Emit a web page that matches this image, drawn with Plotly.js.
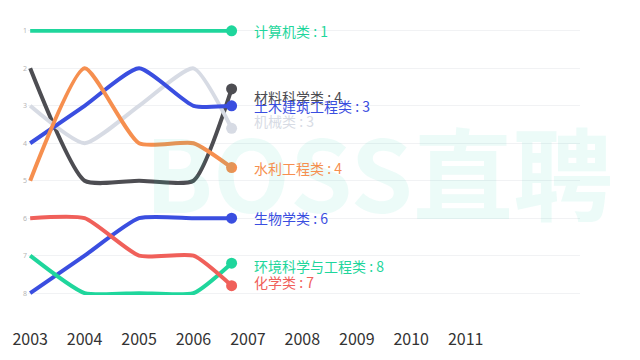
<!DOCTYPE html>
<html><head><meta charset="utf-8">
<script src="https://cdn.plot.ly/plotly-3.0.1.min.js"></script>
<style>html,body{margin:0;padding:0;background:#fff}#chart{width:640px;height:360px}</style>
</head><body><div id="chart"></div>
<script>
const years = [2003, 2004, 2005, 2006, 2006.7];
const yearTicks = [2003, 2004, 2005, 2006, 2007, 2008, 2009, 2010, 2011];
const rankTicks = [1, 2, 3, 4, 5, 6, 7, 8];
const names = ['计算机类', '材料科学类', '机械类', '土木建筑工程类', '水利工程类', '生物学类', '环境科学与工程类', '化学类'];
const ranks = [
  [1, 1, 1, 1, 1],
  [2, 5, 5, 5, 2.55],
  [3, 4, 3, 2, 3.6],
  [4, 3, 2, 3, 3],
  [5, 2, 4, 4, 4.65],
  [8, 7, 6, 6, 6],
  [7, 8, 8, 8, 7.2],
  [6, 6, 7, 7, 7.8]
];
const labelValues = [1, 4, 3, 3, 4, 6, 8, 7];
const colors = ['#1fd69c', '#4d4d52', '#d7dbe4', '#3a4ee0', '#f68f4f', '#3a4ee0', '#1fd69c', '#f0605a'];
const labelDown = [0, 8, -7, 0, 0, 0, 3, -4];

const traces = [];
const annotations = [{
  xref: 'paper', yref: 'paper', x: 0.635, y: 0.47, text: '<b>BOSS直聘</b>',
  showarrow: false, xanchor: 'center', yanchor: 'middle',
  font: {family: 'Noto Sans CJK SC', size: 100, color: 'rgba(40,205,170,0.085)'}
}];
names.forEach((n, i) => {
  traces.push({
    x: years, y: ranks[i], type: 'scatter', mode: 'lines',
    line: {shape: 'spline', smoothing: 0.55, width: 4, color: colors[i]},
    cliponaxis: false, hoverinfo: 'skip'
  });
  traces.push({
    x: [years[years.length - 1]], y: [ranks[i][ranks[i].length - 1]],
    type: 'scatter', mode: 'markers',
    marker: {size: 11, color: colors[i]}, cliponaxis: false, hoverinfo: 'skip'
  });
  annotations.push({
    x: years[years.length - 1], y: ranks[i][ranks[i].length - 1],
    xref: 'x', yref: 'y', text: n + ' : ' + labelValues[i], showarrow: false,
    xanchor: 'left', yanchor: 'middle', xshift: 20, yshift: -labelDown[i],
    font: {family: 'Noto Sans CJK SC', size: 14, color: colors[i]}
  });
});

const layout = {
  width: 640, height: 360,
  margin: {l: 28, r: 60, t: 29, b: 65},
  paper_bgcolor: '#fff', plot_bgcolor: '#fff',
  showlegend: false,
  xaxis: {
    range: [2002.96, 2013.1], tickvals: yearTicks, ticktext: yearTicks.map(String),
    showgrid: false, zeroline: false, showline: false,
    ticks: 'outside', ticklen: 30, tickcolor: 'rgba(0,0,0,0)',
    tickfont: {family: 'Noto Sans CJK SC', size: 16, color: '#333'}
  },
  yaxis: {
    range: [8.05, 0.95], tickvals: rankTicks, ticktext: rankTicks.map(String),
    showgrid: true, gridcolor: '#f1f2f4', gridwidth: 1, zeroline: false, showline: false,
    ticks: '', tickfont: {family: 'Noto Sans', size: 7, color: '#b5b5b5'}
  },
  annotations: annotations
};
Plotly.newPlot('chart', traces, layout, {staticPlot: true});
</script></body></html>
